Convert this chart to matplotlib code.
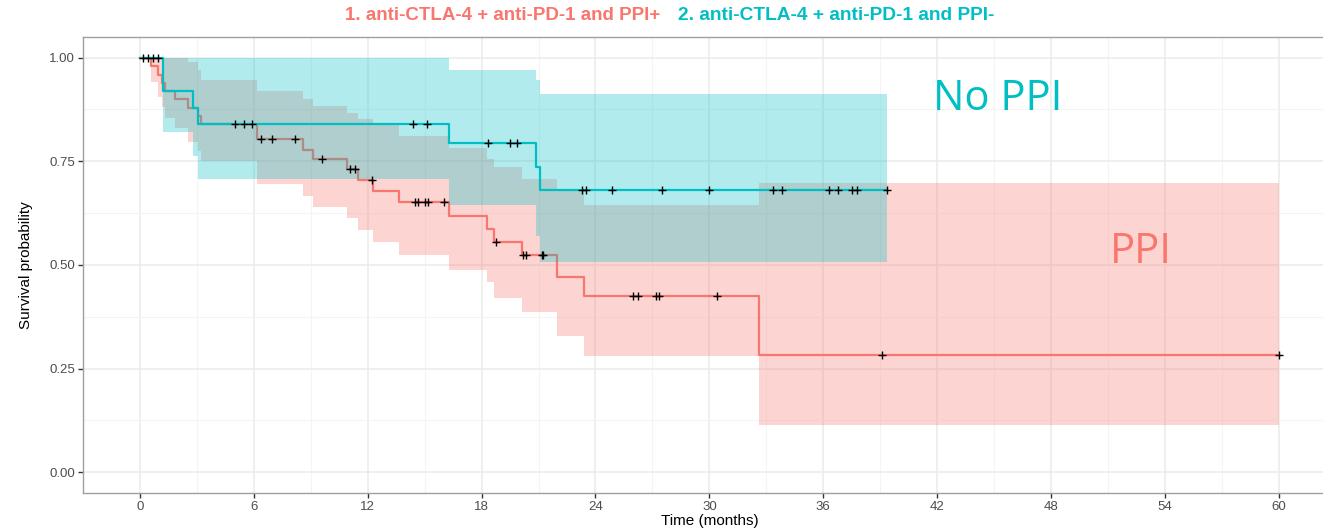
import numpy as np
import matplotlib
matplotlib.use('Agg')
import matplotlib.pyplot as plt
from matplotlib.ticker import MultipleLocator, FormatStrFormatter

# Kaplan-Meier estimates
# group 1: anti-CTLA-4 + anti-PD-1 and PPI+
ppi_time = [0, 0.56, 0.95, 1.14, 1.3, 1.84, 2.55, 3.07, 3.2, 6.18, 8.6, 9.13, 10.92,
            11.47, 12.3, 13.65, 16.3, 18.3, 18.65, 20.15, 21.95, 23.38, 32.63]
ppi_surv = [1.0, 0.98, 0.959, 0.939, 0.919, 0.899, 0.879, 0.859, 0.84, 0.803, 0.777,
            0.755, 0.732, 0.704, 0.679, 0.651, 0.619, 0.587, 0.555, 0.523, 0.472,
            0.424, 0.282]
ppi_lower = [1.0, 0.94, 0.905, 0.88, 0.855, 0.83, 0.797, 0.775, 0.75, 0.695, 0.667,
             0.639, 0.612, 0.583, 0.555, 0.525, 0.488, 0.458, 0.42, 0.387, 0.328,
             0.28, 0.115]
ppi_upper = [1.0, 1.0, 1.0, 1.0, 1.0, 1.0, 0.99, 0.97, 0.947, 0.919, 0.9, 0.883,
             0.867, 0.853, 0.839, 0.811, 0.783, 0.755, 0.735, 0.707, 0.679, 0.644,
             0.697]
ppi_censor = [6.36, 6.94, 8.17, 9.57, 11.06, 11.33, 12.24, 14.5, 14.65, 15.03, 15.18,
              16.0, 18.74, 20.2, 20.35, 21.16, 21.25, 26.0, 26.25, 27.2, 27.35,
              30.38, 39.1, 60.0]
ppi_end = 60.0

# group 2: anti-CTLA-4 + anti-PD-1 and PPI-
noppi_time = [0, 1.23, 2.8, 3.07, 16.3, 20.85, 21.07]
noppi_surv = [1.0, 0.919, 0.879, 0.839, 0.795, 0.735, 0.681]
noppi_lower = [1.0, 0.82, 0.763, 0.708, 0.644, 0.57, 0.506]
noppi_upper = [1.0, 1.0, 1.0, 1.0, 0.971, 0.947, 0.913]
noppi_censor = [0.17, 0.44, 0.7, 0.96, 5.0, 5.5, 5.9, 14.4, 15.1, 18.35, 19.5, 19.85,
                23.3, 23.5, 24.85, 27.5, 30.0, 33.35, 33.8, 36.3, 36.8, 37.5, 37.8,
                39.35]
noppi_end = 39.35

red = '#F8766D'
teal = '#00BFC4'

plt.rcParams['font.family'] = ['Liberation Sans Narrow', 'Liberation Sans', 'DejaVu Sans']

fig = plt.figure(figsize=(13.23, 5.31), dpi=100)
# the panel runs past the right edge of the picture, as in the reference crop
ax = fig.add_axes([0.0627, 0.0716, 0.947, 0.859])


def draw_group(times, surv, lower, upper, censor, end, color, z):
    t = np.append(times, end)
    s = np.append(surv, surv[-1])
    lo = np.append(lower, lower[-1])
    hi = np.append(upper, upper[-1])
    ax.fill_between(t, lo, hi, step='post', color=color, alpha=0.3, lw=0, zorder=z)
    ax.step(t, s, where='post', color=color, lw=1.6, zorder=z + 0.5)
    idx = np.searchsorted(times, censor, side='right') - 1
    ax.plot(censor, np.array(surv)[idx], ls='none', marker='+', ms=6, mew=1,
            color='black', zorder=10)


draw_group(ppi_time, ppi_surv, ppi_lower, ppi_upper, ppi_censor, ppi_end, red, 2)
draw_group(noppi_time, noppi_surv, noppi_lower, noppi_upper, noppi_censor, noppi_end, teal, 3)

ax.set_xlim(-3, 63)
ax.set_ylim(-0.05, 1.05)
ax.xaxis.set_major_locator(MultipleLocator(6))
ax.xaxis.set_minor_locator(MultipleLocator(3))
ax.yaxis.set_major_locator(MultipleLocator(0.25))
ax.yaxis.set_minor_locator(MultipleLocator(0.125))
ax.yaxis.set_major_formatter(FormatStrFormatter('%.2f'))
ax.grid(which='major', color='#EBEBEB', lw=1.1, zorder=0)
ax.grid(which='minor', color='#F4F4F4', lw=0.8, zorder=0)
ax.set_axisbelow(True)
ax.tick_params(which='major', length=3.5, width=1, color='#333333', labelsize=9.5,
               labelcolor='#4D4D4D', pad=2)
ax.tick_params(which='minor', length=0)
for sp in ax.spines.values():
    sp.set_color('#A0A0A0')
    sp.set_linewidth(1)

ax.set_xlabel('Time (months)', fontsize=11, labelpad=1)
ax.set_ylabel('Survival probability', fontsize=11, labelpad=12)

# legend as coloured text above the panel
fig.text(345 / 1323, 1 - 16 / 531, '1. anti-CTLA-4 + anti-PD-1 and PPI+', color=red,
         fontsize=13.5, fontweight='bold', ha='left', va='center')
fig.text(678 / 1323, 1 - 16 / 531, '2. anti-CTLA-4 + anti-PD-1 and PPI-', color=teal,
         fontsize=13.8, fontweight='bold', ha='left', va='center')

# annotations
ax.text(41.8, 0.90, 'No PPI', color=teal, fontsize=30, family=['Open Sans', 'DejaVu Sans'],
        ha='left', va='center')
ax.text(51.1, 0.53, 'PPI', color=red, fontsize=30, family=['Open Sans', 'DejaVu Sans'],
        ha='left', va='center')

fig.savefig('out.png', dpi=100)
